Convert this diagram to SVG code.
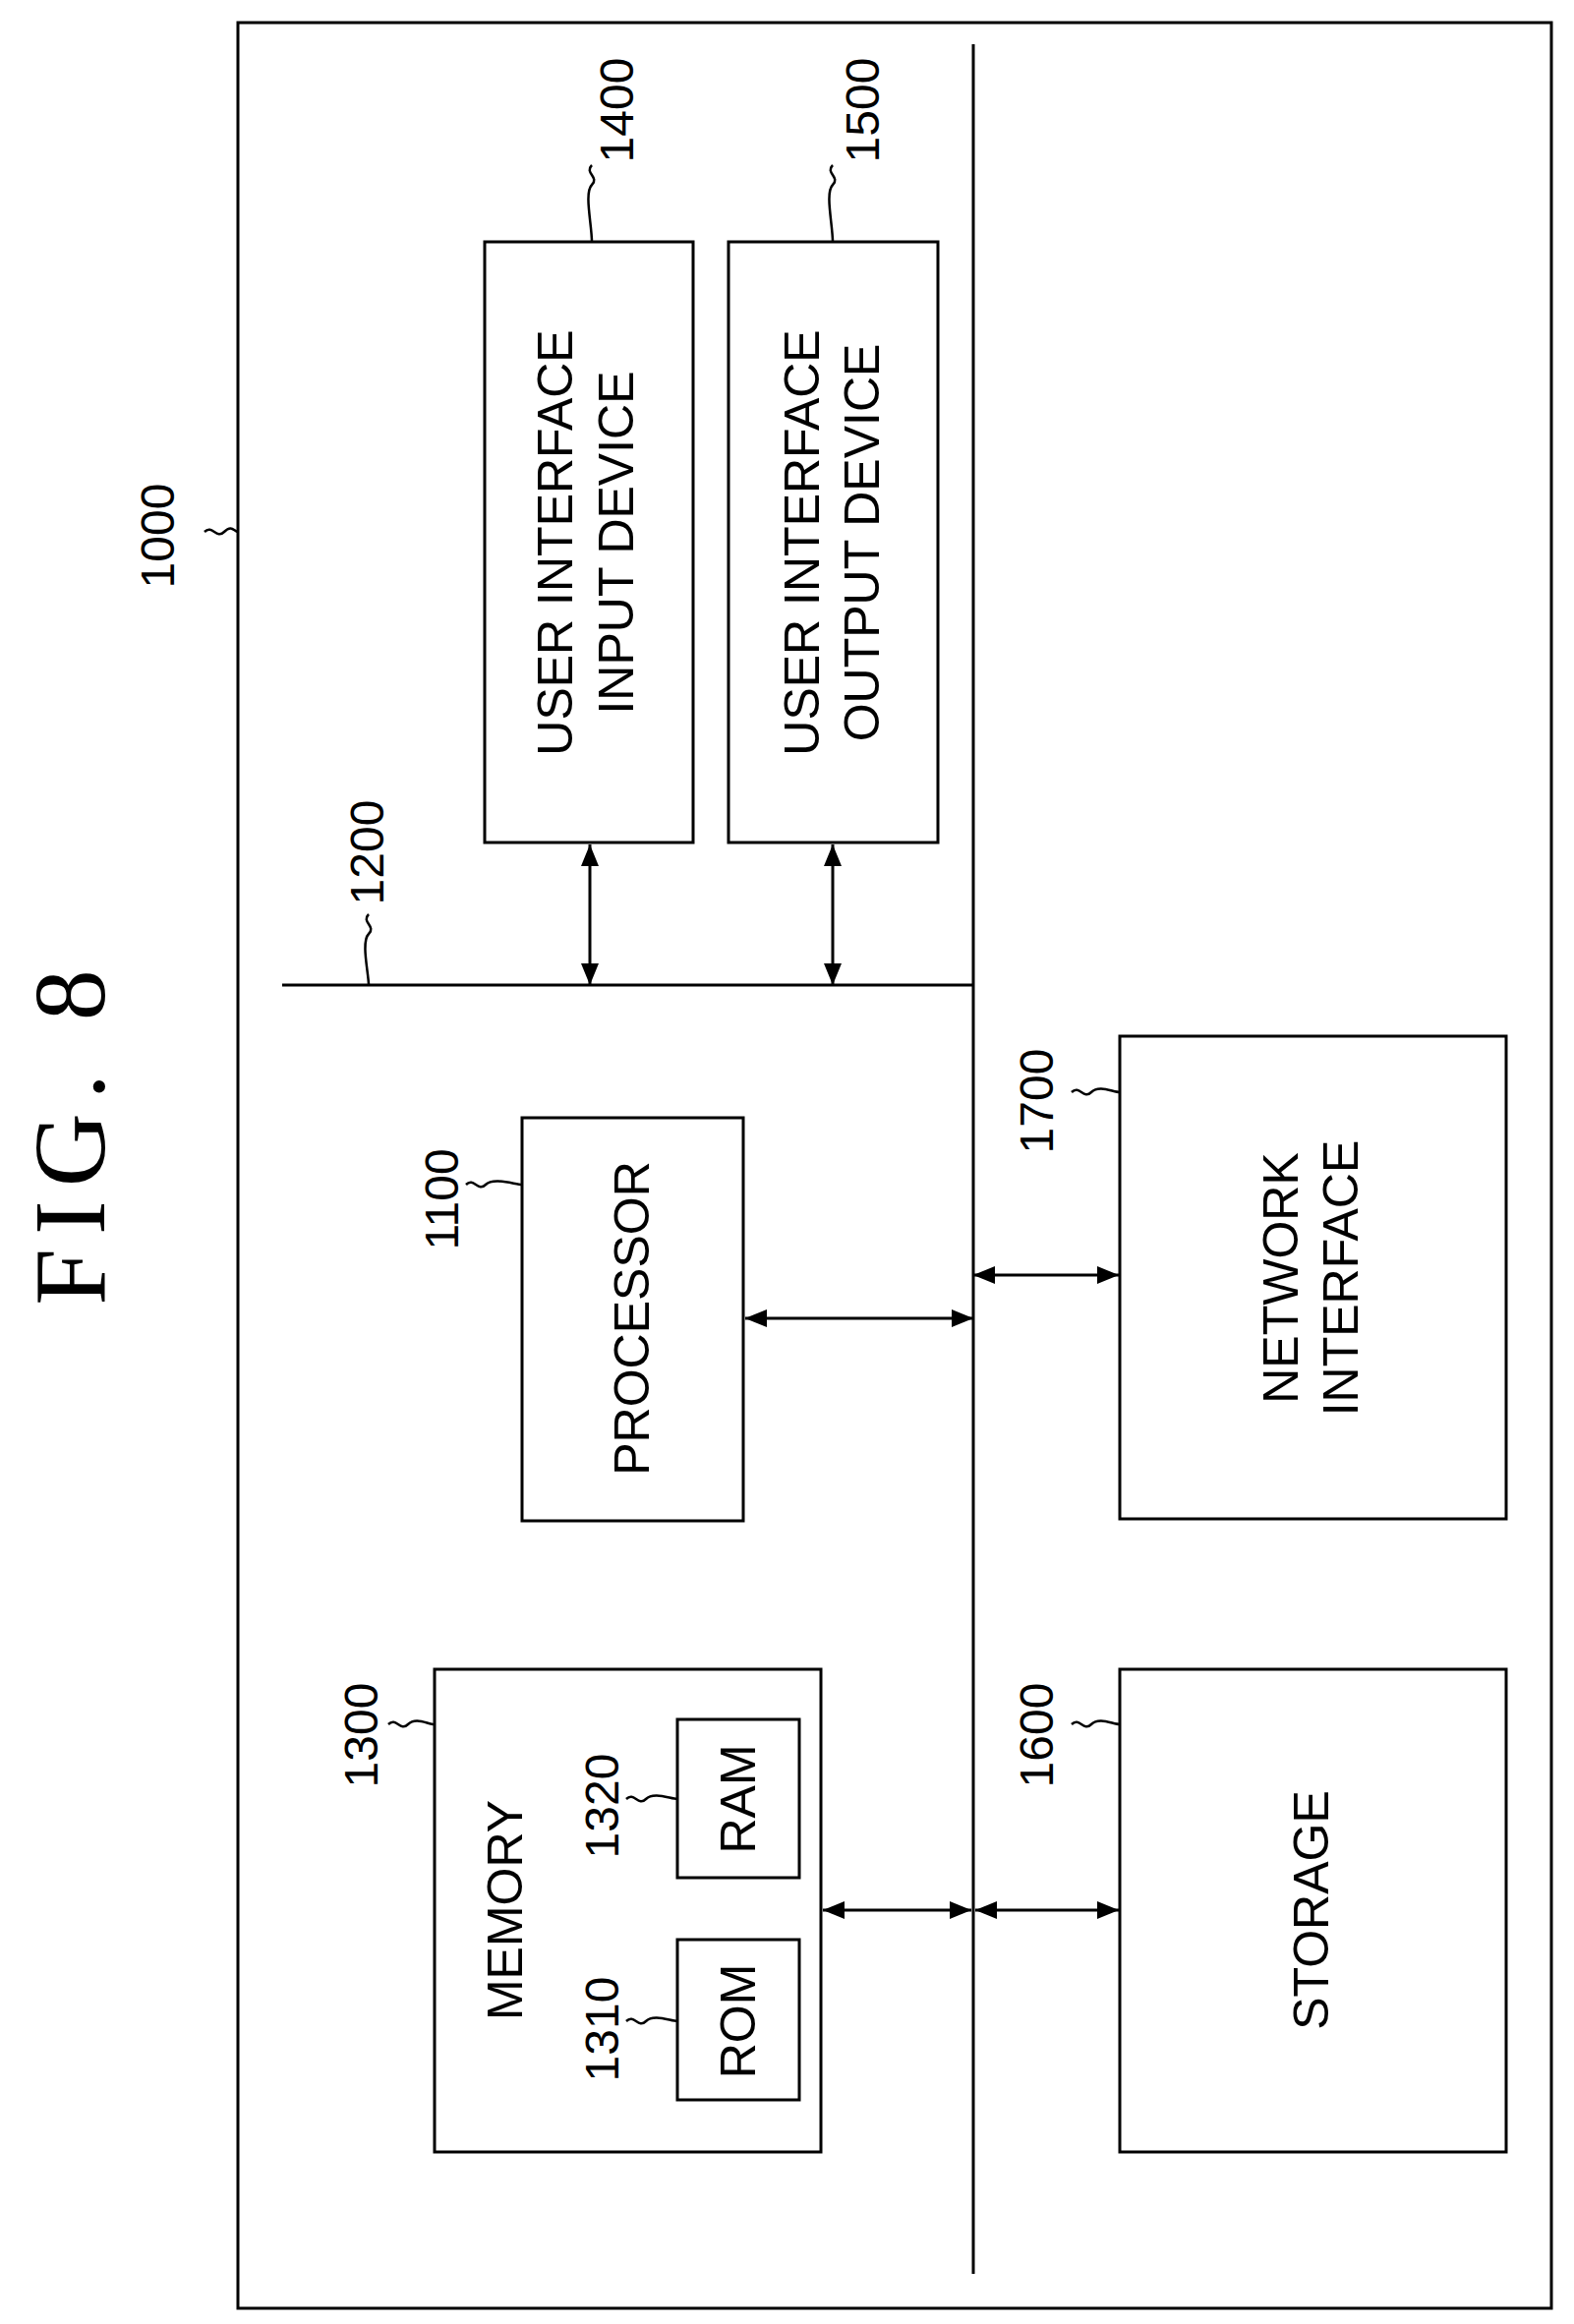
<svg xmlns="http://www.w3.org/2000/svg" width="1601" height="2364" viewBox="0 0 1601 2364">
<style>
.b{fill:none;stroke:#000;stroke-width:3}
.l{fill:none;stroke:#000;stroke-width:2.5}
.t{font-family:"Liberation Sans",Arial,sans-serif;font-size:50px;text-anchor:middle;dominant-baseline:central}
.n{font-family:"Liberation Sans",Arial,sans-serif;font-size:48px;text-anchor:middle;dominant-baseline:central}
</style>
<defs>
<marker id="a" viewBox="0 0 10 10" refX="10" refY="5" markerWidth="22" markerHeight="18" markerUnits="userSpaceOnUse" orient="auto-start-reverse" preserveAspectRatio="none"><path d="M0 0L10 5L0 10z"/></marker>
</defs>
<rect width="1601" height="2364" fill="#fff"/>
<text x="0" y="0" transform="translate(70 1150) rotate(-90)" style="font-family:'Liberation Serif',serif;font-size:104px;letter-spacing:14px;text-anchor:middle;dominant-baseline:central">FIG. 8</text>
<g id="n1000"><rect class="b" x="242" y="23" width="1336" height="2325"/><text class="n" transform="translate(160 545) rotate(-90)">1000</text><path class="l" d="M208 541c8-8 12 8 20 0s10 0 14 0"/></g>
<g id="n1400"><rect class="b" x="493" y="246" width="212" height="611"/><text class="t" transform="translate(565 552) rotate(-90)">USER INTERFACE</text><text class="t" transform="translate(627 552) rotate(-90)">INPUT DEVICE</text><text class="n" transform="translate(627 112) rotate(-90)">1400</text><path class="l" d="M602 168c-8 8 8 12 0 20s0 40 0 58"/></g>
<g id="n1500"><rect class="b" x="741" y="246" width="213" height="611"/><text class="t" transform="translate(816 552) rotate(-90)">USER INTERFACE</text><text class="t" transform="translate(877 552) rotate(-90)">OUTPUT DEVICE</text><text class="n" transform="translate(877 112) rotate(-90)">1500</text><path class="l" d="M847 168c-8 8 8 12 0 20s0 40 0 58"/></g>
<g id="n1200"><text class="n" transform="translate(373 867) rotate(-90)">1200</text><path class="l" d="M375 930c-8 8 8 12 0 20s0 40 0 52"/></g>
<g id="n1100"><rect class="b" x="531" y="1137" width="225" height="410"/><text class="t" transform="translate(643 1341) rotate(-90)">PROCESSOR</text><text class="n" transform="translate(449 1220) rotate(-90)">1100</text><path class="l" d="M474 1205c8-8 12 8 20 0s30 0 37 0"/></g>
<g id="n1700"><rect class="b" x="1139" y="1054" width="393" height="491"/><text class="t" transform="translate(1303 1300) rotate(-90)">NETWORK</text><text class="t" transform="translate(1364 1300) rotate(-90)">INTERFACE</text><text class="n" transform="translate(1054 1120) rotate(-90)">1700</text><path class="l" d="M1090 1111c8-8 12 8 20 0s22 0 29 0"/></g>
<g id="n1300"><rect class="b" x="442" y="1698" width="393" height="491"/><text class="t" transform="translate(514 1943) rotate(-90)">MEMORY</text><text class="n" transform="translate(367 1765) rotate(-90)">1300</text><path class="l" d="M395 1754c8-8 12 8 20 0s20 0 27 0"/></g>
<g id="n1320"><rect class="b" x="689" y="1749" width="124" height="161"/><text class="t" transform="translate(751 1830) rotate(-90)">RAM</text><text class="n" transform="translate(612 1837) rotate(-90)">1320</text><path class="l" d="M637 1830c8-8 12 8 20 0s25 0 32 0"/></g>
<g id="n1310"><rect class="b" x="689" y="1973" width="124" height="163"/><text class="t" transform="translate(751 2056) rotate(-90)">ROM</text><text class="n" transform="translate(612 2064) rotate(-90)">1310</text><path class="l" d="M637 2056c8-8 12 8 20 0s25 0 32 0"/></g>
<g id="n1600"><rect class="b" x="1139" y="1698" width="393" height="491"/><text class="t" transform="translate(1334 1943) rotate(-90)">STORAGE</text><text class="n" transform="translate(1054 1765) rotate(-90)">1600</text><path class="l" d="M1090 1754c8-8 12 8 20 0s22 0 29 0"/></g>
<g id="connectors" stroke="#000" stroke-width="3" fill="none">
<line x1="990" y1="45" x2="990" y2="2313"/>
<line x1="287" y1="1002" x2="990" y2="1002"/>
<line x1="600" y1="859" x2="600" y2="1002" marker-start="url(#a)" marker-end="url(#a)"/>
<line x1="847" y1="859" x2="847" y2="1002" marker-start="url(#a)" marker-end="url(#a)"/>
<line x1="758" y1="1341" x2="990" y2="1341" marker-start="url(#a)" marker-end="url(#a)"/>
<line x1="990" y1="1297" x2="1138" y2="1297" marker-start="url(#a)" marker-end="url(#a)"/>
<line x1="837" y1="1943" x2="988" y2="1943" marker-start="url(#a)" marker-end="url(#a)"/>
<line x1="992" y1="1943" x2="1138" y2="1943" marker-start="url(#a)" marker-end="url(#a)"/>
</g>
</svg>
